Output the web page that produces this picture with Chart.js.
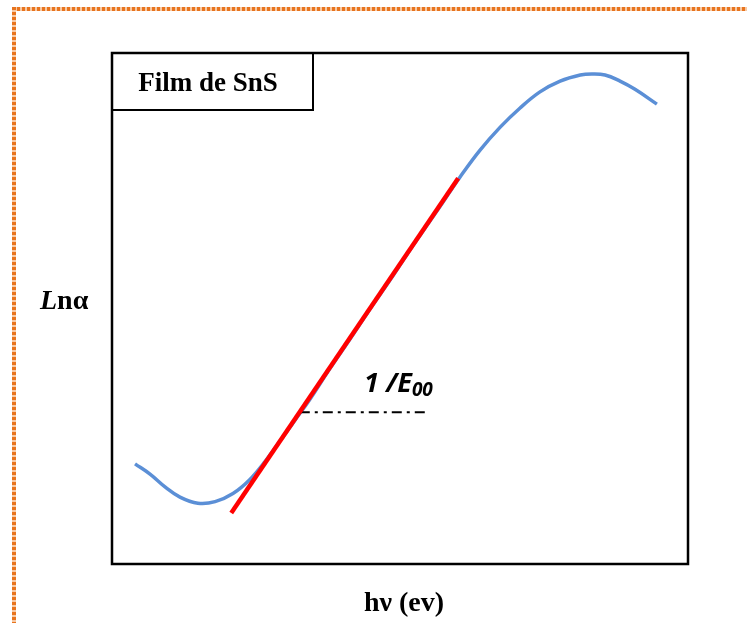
<!DOCTYPE html>
<html>
<head>
<meta charset="utf-8">
<script src="https://cdn.jsdelivr.net/npm/chart.js@4.4.1/dist/chart.umd.min.js"></script>
<style>
  html, body { margin: 0; padding: 0; background: #fff; }
  #wrap { position: relative; width: 747px; height: 623px; overflow: hidden; }
  #topBar { position: absolute; left: 12px; top: 7px; width: 735px; height: 4px;
    background: repeating-linear-gradient(90deg, #e8741e 0 3px, #f7c9a4 3px 5px); }
  #leftBar { position: absolute; left: 12px; top: 7px; width: 4px; height: 616px;
    background: repeating-linear-gradient(180deg, #e8741e 0 3px, #f7c9a4 3px 5px); }
  canvas { position: absolute; left: 0; top: 0; }
</style>
</head>
<body>
<div id="wrap">
  <div id="topBar"></div>
  <div id="leftBar"></div>
  <canvas id="absChart" width="747" height="623"></canvas>
</div>
<script>
// courbe Ln(alpha) = f(hv), unités arbitraires
var hvValues = [4.0, 6.6, 9.2, 11.8, 14.9, 17.9, 21.0, 23.9, 26.6, 29.2, 31.8, 34.4, 37.8, 41.3, 44.8, 48.3, 51.7, 55.2, 57.8, 60.4, 63.9, 67.4, 70.8, 74.3, 77.8, 81.3, 83.3, 85.6, 88.2, 90.8, 94.6];
var lnAlpha  = [19.6, 17.6, 15.1, 13.1, 11.9, 12.2, 13.8, 16.5, 20.1, 24.1, 28.2, 32.3, 38.2, 44.0, 49.9, 55.6, 61.4, 67.1, 71.4, 75.7, 81.0, 85.5, 89.2, 92.4, 94.5, 95.7, 95.9, 95.7, 94.5, 92.9, 90.0];

// droite de Urbach (tangente)
var fitX = [20.7, 60.1];
var fitY = [10.0, 75.5];

// trait mixte pour 1/E00
var markX = [32.6, 54.9];
var markY = [29.7, 29.7];

function toPoints(xs, ys) {
    return xs.map(function (x, i) { return { x: x, y: ys[i] }; });
}

var framePlugin = {
    id: "framePlugin",
    afterDraw: function (chart) {
        var ctx = chart.ctx;
        var a = chart.chartArea;
        ctx.save();
        ctx.strokeStyle = "#000";
        ctx.lineWidth = 2.5;
        ctx.strokeRect(a.left, a.top, a.right - a.left, a.bottom - a.top);
        // cadre du titre
        ctx.lineWidth = 2;
        ctx.strokeRect(a.left, a.top, 201, 57);
        ctx.fillStyle = "#000";
        ctx.font = "bold 27px 'Liberation Serif'";
        ctx.textAlign = "center";
        ctx.textBaseline = "alphabetic";
        ctx.fillText("Film de SnS", 208, 91);
        // titre axe x
        ctx.font = "bold 28px 'Liberation Serif'";
        ctx.fillText("hν (ev)", 404, 611);
        // titre axe y
        ctx.textAlign = "left";
        ctx.font = "italic bold 28px 'Liberation Serif'";
        ctx.fillText("L", 40, 309);
        var wL = ctx.measureText("L").width;
        ctx.font = "bold 28px 'Liberation Serif'";
        ctx.fillText("nα", 40 + wL, 309);
        // 1/E00
        ctx.font = "italic bold 27px 'Open Sans'";
        ctx.fillText("1 /E", 364, 392);
        var w = ctx.measureText("1 /E").width;
        ctx.font = "italic bold 19px 'Open Sans'";
        ctx.fillText("00", 364 + w, 396);
        ctx.restore();
    }
};

var ctx = document.getElementById("absChart").getContext("2d");
var absChart = new Chart(ctx, {
    type: "scatter",
    data: {
        datasets: [{
            label: "Ln α",
            data: toPoints(hvValues, lnAlpha),
            showLine: true,
            borderColor: "#5b8fd6",
            borderWidth: 3.5,
            pointRadius: 0,
            tension: 0.4,
            order: 2,
            fill: false
        }, {
            label: "tangente",
            data: toPoints(fitX, fitY),
            showLine: true,
            borderColor: "#ff0000",
            borderWidth: 4.5,
            pointRadius: 0,
            order: 0,
            fill: false
        }, {
            label: "1/E00",
            data: toPoints(markX, markY),
            showLine: true,
            borderColor: "#000",
            borderWidth: 2,
            borderDash: [10, 5, 3, 5],
            pointRadius: 0,
            order: 1,
            fill: false
        }]
    },
    options: {
        responsive: false,
        animation: false,
        layout: { padding: { left: 112, right: 59, top: 53, bottom: 59 } },
        plugins: {
            legend: { display: false },
            tooltip: { enabled: false }
        },
        scales: {
            x: { type: "linear", min: 0, max: 100, display: false },
            y: { type: "linear", min: 0, max: 100, display: false }
        }
    },
    plugins: [framePlugin]
});
</script>
</body>
</html>
